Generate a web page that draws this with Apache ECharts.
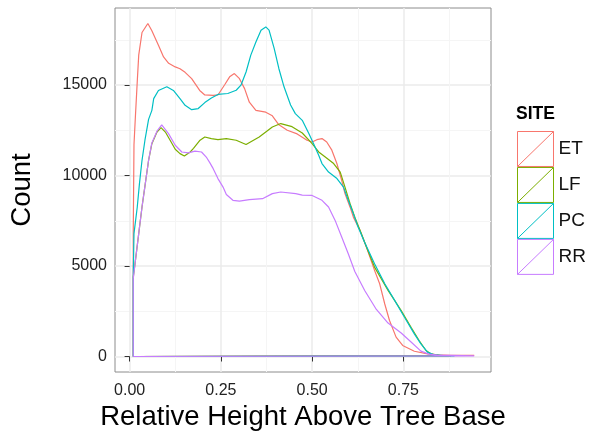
<!DOCTYPE html>
<html>
<head>
<meta charset="utf-8">
<script src="https://cdn.jsdelivr.net/npm/echarts@6/dist/echarts.min.js"></script>
<style>
  html, body { margin: 0; padding: 0; background: #ffffff; }
  #chart { width: 592px; height: 439px; }
</style>
</head>
<body>
<div id="chart"></div>
<script>
// Sites and their hue colours
const sites = ['ET', 'LF', 'PC', 'RR'];
const siteColors = ['#F8766D', '#7CAE00', '#00BFC4', '#C77CFF'];

// Axis breaks
const xTicks = [0, 0.25, 0.5, 0.75];
const xMinorTicks = [0.125, 0.375, 0.625, 0.875];
const yTicks = [0, 5000, 10000, 15000];
const yMinorTicks = [2500, 7500, 12500, 17500];

// Density (as counts) of relative height above tree base, per site
const etHeight = [0.010, 0.012, 0.016, 0.021, 0.025, 0.034, 0.050, 0.061, 0.079, 0.093, 0.107, 0.125, 0.138, 0.152, 0.170, 0.192, 0.206, 0.229, 0.242, 0.260, 0.274, 0.287, 0.301, 0.315, 0.328, 0.346, 0.373, 0.391, 0.409, 0.432, 0.459, 0.486, 0.500, 0.513, 0.527, 0.540, 0.554, 0.568, 0.581, 0.590, 0.604, 0.613, 0.631, 0.649, 0.671, 0.685, 0.699, 0.712, 0.730, 0.748, 0.780, 0.816, 0.843, 0.880, 0.944];
const etCount  = [6860, 11700, 13300, 15200, 16650, 17900, 18400, 18000, 17200, 16550, 16200, 16000, 15900, 15700, 15350, 14700, 14450, 14430, 14450, 15000, 15450, 15630, 15350, 14800, 14050, 13600, 13500, 13300, 12800, 12500, 12300, 11950, 11850, 11980, 12040, 11850, 11400, 10650, 9730, 9000, 8250, 7700, 6970, 6040, 4760, 4020, 2900, 1990, 1070, 610, 290, 150, 90, 70, 60];

const lfHeight = [0.010, 0.016, 0.025, 0.034, 0.043, 0.052, 0.061, 0.075, 0.086, 0.098, 0.111, 0.125, 0.138, 0.150, 0.166, 0.175, 0.193, 0.206, 0.224, 0.242, 0.265, 0.292, 0.319, 0.355, 0.391, 0.414, 0.445, 0.473, 0.500, 0.518, 0.536, 0.559, 0.577, 0.590, 0.604, 0.617, 0.635, 0.649, 0.671, 0.708, 0.744, 0.771, 0.793, 0.812, 0.825, 0.852, 0.880];
const lfCount  = [4370, 5310, 6790, 8260, 9550, 10840, 11760, 12400, 12650, 12400, 11950, 11450, 11210, 11080, 11300, 11500, 11950, 12130, 12040, 11980, 12040, 11950, 11710, 12130, 12680, 12870, 12700, 12350, 11760, 11300, 11020, 10660, 10190, 9360, 8440, 7700, 6790, 6040, 4940, 3650, 2540, 1620, 885, 330, 150, 50, 30];

const pcHeight = [0.010, 0.012, 0.021, 0.027, 0.034, 0.042, 0.052, 0.061, 0.066, 0.079, 0.102, 0.120, 0.138, 0.152, 0.170, 0.188, 0.206, 0.224, 0.242, 0.269, 0.292, 0.305, 0.319, 0.332, 0.346, 0.360, 0.373, 0.382, 0.396, 0.409, 0.423, 0.441, 0.454, 0.473, 0.491, 0.504, 0.518, 0.527, 0.545, 0.568, 0.586, 0.599, 0.613, 0.626, 0.644, 0.671, 0.699, 0.726, 0.753, 0.780, 0.798, 0.816, 0.834, 0.861, 0.890];
const pcCount  = [4480, 6790, 8260, 9550, 10840, 11950, 13100, 13600, 14250, 14700, 14900, 14700, 14250, 13880, 13640, 13700, 14030, 14280, 14480, 14530, 14710, 14990, 15720, 16650, 17380, 18030, 18210, 18030, 17020, 15900, 14900, 13900, 13420, 13050, 12320, 11760, 11120, 10660, 10190, 9830, 9360, 8630, 7890, 7150, 6300, 5130, 4020, 3100, 2170, 1250, 700, 240, 90, 55, 30];

const rrHeight = [0.010, 0.016, 0.025, 0.034, 0.043, 0.052, 0.061, 0.075, 0.088, 0.107, 0.125, 0.143, 0.161, 0.179, 0.197, 0.210, 0.220, 0.229, 0.242, 0.256, 0.265, 0.283, 0.301, 0.328, 0.364, 0.391, 0.414, 0.455, 0.473, 0.500, 0.527, 0.545, 0.563, 0.581, 0.599, 0.617, 0.644, 0.676, 0.708, 0.744, 0.771, 0.798, 0.820, 0.843, 0.944];
const rrCount  = [4300, 5310, 6790, 8260, 9550, 10840, 11800, 12450, 12800, 12300, 11670, 11300, 11250, 11350, 11300, 11020, 10700, 10380, 9830, 9360, 8950, 8630, 8590, 8670, 8720, 9000, 9090, 9000, 8920, 8900, 8630, 8260, 7520, 6600, 5680, 4700, 3650, 2600, 1850, 1300, 800, 300, 130, 80, 40];

const heights = [etHeight, lfHeight, pcHeight, rrHeight];
const counts = [etCount, lfCount, pcCount, rrCount];

// Closed outline of a density area: up from the baseline, along the curve, back along zero
function outline(xs, ys) {
  const pts = xs.map((x, i) => [x, ys[i]]);
  const x0 = xs[0], x1 = xs[xs.length - 1];
  return [[x0, 0]].concat(pts, [[x1, 0], [x0, 0]]);
}

const FONT = '"Liberation Sans", Arial, Helvetica, sans-serif';
const X_MIN = -0.04, X_MAX = 0.99;
const Y_MIN = -856, Y_MAX = 19255;

const chart = echarts.init(document.getElementById('chart'), null, { renderer: 'canvas' });

const series = sites.map((s, i) => ({
  name: s,
  type: 'line',
  data: outline(heights[i], counts[i]),
  showSymbol: false,
  symbol: 'none',
  smooth: false,
  lineStyle: { color: siteColors[i], width: 1.2 },
  itemStyle: { color: siteColors[i] },
  emphasis: { disabled: true },
  animation: false
}));

// Legend key: open box with a diagonal stroke
const keyIcon = 'path://M0.5,0.5H35.5V34.5H0.5Z M0.5,34.5L35.5,0.5';

chart.setOption({
  animation: false,
  backgroundColor: '#ffffff',
  textStyle: { fontFamily: FONT },
  title: {
    text: 'SITE',
    left: 516,
    top: 105,
    padding: 0,
    textStyle: { fontFamily: FONT, fontSize: 17.5, fontWeight: 'bold', color: '#000000' }
  },
  legend: {
    data: sites.map((s, i) => ({
      name: s,
      icon: keyIcon,
      itemStyle: { color: 'rgba(255,255,255,0)', borderColor: siteColors[i], borderWidth: 1 }
    })),
    orient: 'vertical',
    left: 517,
    top: 131,
    padding: 0,
    itemWidth: 36,
    itemHeight: 35,
    itemGap: 0,
    selectedMode: false,
    textStyle: { fontFamily: FONT, fontSize: 19, color: '#111111' }
  },
  grid: {
    left: 111,
    top: 8,
    width: 380,
    height: 364,
    show: true,
    borderColor: '#8c8c8c',
    borderWidth: 1,
    backgroundColor: 'transparent',
    containLabel: false
  },
  xAxis: [
    {
      type: 'value',
      min: X_MIN,
      max: X_MAX,
      name: 'Relative Height Above Tree Base',
      nameLocation: 'middle',
      nameGap: 27,
      nameTextStyle: { fontFamily: FONT, fontSize: 27.5, color: '#000000' },
      axisLine: { show: false },
      axisTick: { show: true, customValues: xTicks, length: 5, lineStyle: { color: '#333333', width: 1 } },
      axisLabel: { customValues: xTicks, margin: 11, fontSize: 16, color: '#222222', fontFamily: FONT,
                   formatter: v => v.toFixed(2) },
      splitLine: { show: true, lineStyle: { color: '#EBEBEB', width: 1.5 } }
    },
    {
      type: 'value',
      min: X_MIN,
      max: X_MAX,
      axisLine: { show: false },
      axisTick: { show: false, customValues: xMinorTicks },
      axisLabel: { show: false, customValues: xMinorTicks },
      splitLine: { show: true, lineStyle: { color: '#F5F5F5', width: 1 } }
    }
  ],
  yAxis: [
    {
      type: 'value',
      min: Y_MIN,
      max: Y_MAX,
      name: 'Count',
      nameLocation: 'middle',
      nameGap: 79,
      nameTextStyle: { fontFamily: FONT, fontSize: 27.5, color: '#000000' },
      axisLine: { show: false },
      axisTick: { show: true, customValues: yTicks, length: 5, lineStyle: { color: '#333333', width: 1 } },
      axisLabel: { customValues: yTicks, margin: 8, fontSize: 16, color: '#222222', fontFamily: FONT,
                   formatter: v => String(v) },
      splitLine: { show: true, lineStyle: { color: '#EBEBEB', width: 1.5 } }
    },
    {
      type: 'value',
      min: Y_MIN,
      max: Y_MAX,
      axisLine: { show: false },
      axisTick: { show: false, customValues: yMinorTicks },
      axisLabel: { show: false, customValues: yMinorTicks },
      splitLine: { show: true, lineStyle: { color: '#F5F5F5', width: 1 } }
    }
  ],
  series: series
});
</script>
</body>
</html>
